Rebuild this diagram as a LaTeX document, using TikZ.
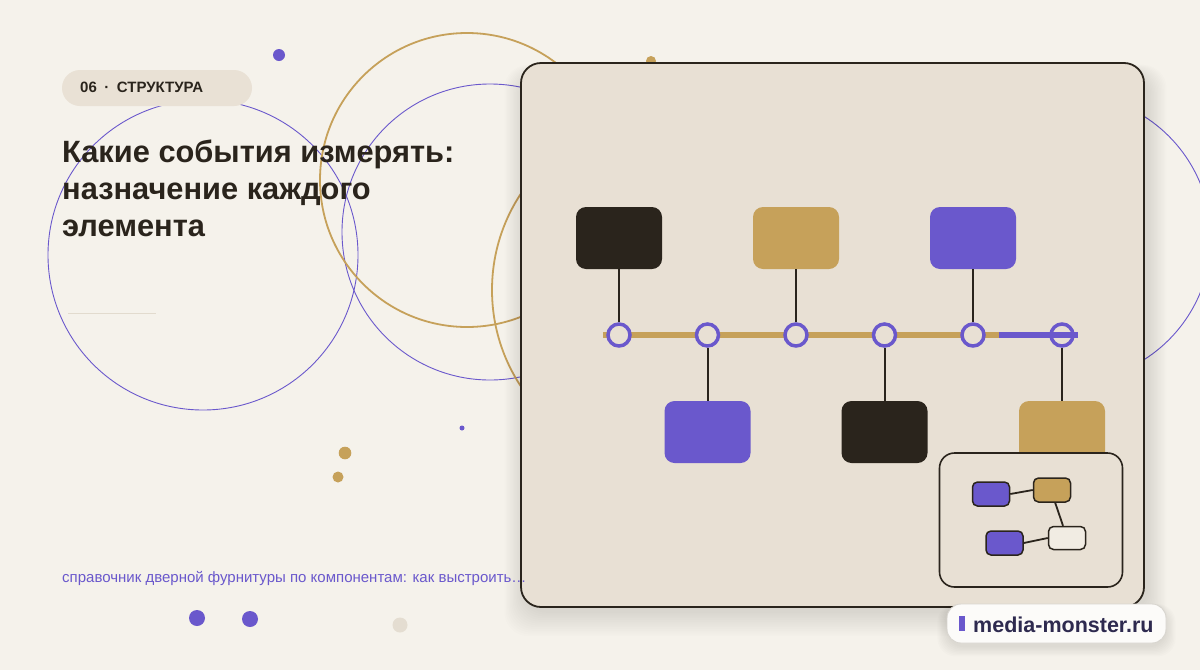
\documentclass[tikz,border=0pt]{standalone}
\usepackage{fontspec}
\setmainfont{Liberation Sans}
\usetikzlibrary{calc}
\definecolor{bg}{HTML}{F5F2EB}
\definecolor{ink}{HTML}{2A241C}
\definecolor{gold}{HTML}{C6A15A}
\definecolor{violet}{HTML}{6A58CC}
\definecolor{cardbg}{HTML}{E8E0D4}
\definecolor{pillbg}{HTML}{E9E1D5}
\definecolor{rulegray}{HTML}{E2DBCE}
\definecolor{beigedot}{HTML}{E4DDD1}
\definecolor{lightbox}{HTML}{F1ECE3}
\definecolor{logoink}{HTML}{2E2A4F}
\begin{document}
\begin{tikzpicture}[x=1pt,y=-1pt,
  bigbox/.style={rectangle, rounded corners=10pt, minimum width=86pt, minimum height=62pt, inner sep=0pt},
  dot/.style={circle, draw=violet, line width=3.5pt, fill=cardbg, minimum size=22pt, inner sep=0pt},
  stem/.style={draw=ink, line width=2pt},
  minibox/.style={rectangle, rounded corners=5pt, draw=ink, line width=1.5pt, minimum width=37pt, minimum height=24pt, inner sep=0pt},
  minilink/.style={draw=ink, line width=1.8pt},
  txt/.style={inner sep=0pt, anchor=base west}
]
\useasboundingbox (0,0) rectangle (1200,670);
\fill[bg] (0,0) rectangle (1200,670);

% decorative circles
\draw[violet, line width=0.9pt] (203,255) circle[radius=155];
\draw[violet, line width=0.9pt] (490,232) circle[radius=148];
\draw[gold, line width=1.8pt] (467,180) circle[radius=147];
\draw[gold, line width=1.8pt] (667,290) circle[radius=175];
\draw[violet, line width=0.9pt] (1067,238) circle[radius=144];

% dots
\fill[violet] (279,55) circle[radius=6];
\fill[gold] (651,61) circle[radius=5];
\fill[violet] (462,428) circle[radius=2.5];
\fill[gold] (345,453) circle[radius=6.3];
\fill[gold] (338,477) circle[radius=5.5];
\fill[violet] (197,618) circle[radius=8];
\fill[violet] (250,619) circle[radius=8];
\fill[beigedot] (400,625) circle[radius=7.5];

% tag pill
\fill[pillbg, rounded corners=18pt] (62,70) rectangle (252,106);
\node[txt, text=ink, font=\bfseries\fontsize{15}{17}\selectfont] (tag) at (80,92.3) {06\hspace{7.5pt}·\hspace{7.5pt}СТРУКТУРА};

% title
\node[txt, text=ink, font=\bfseries\fontsize{30.8}{37}\selectfont] (title1) at (62,162) {Какие события измерять:};
\node[txt, text=ink, font=\bfseries\fontsize{30.8}{37}\selectfont] (title2) at (62,199) {назначение каждого};
\node[txt, text=ink, font=\bfseries\fontsize{30.8}{37}\selectfont] (title3) at (62,236) {элемента};

% thin rule
\draw[rulegray, line width=0.8pt] (68,313) -- (156,313);

% card shadow
\foreach \i in {1,...,14} {
  \fill[black, opacity=0.009, rounded corners=24pt]
    (521-\i*1.4+3, 63-\i*0.6+10) rectangle (1144+\i*1.4+3, 607+\i*1.8+4);
}
% card
\node[rectangle, rounded corners=20pt, fill=cardbg, draw=ink, line width=1.8pt,
      minimum width=623pt, minimum height=544pt, inner sep=0pt] (card) at (832.5,335) {};

% timeline
\draw[gold, line width=6.5pt] (603,335) -- (999,335);
\node[dot] (c1) at (619,335) {};
\node[dot] (c2) at (707.5,335) {};
\node[dot] (c3) at (796,335) {};
\node[dot] (c4) at (884.5,335) {};
\node[dot] (c5) at (973,335) {};
\node[dot] (c6) at (1062,335) {};
\draw[violet, line width=6.5pt] (999,335) -- (1078,335);

% top boxes
\node[bigbox, fill=ink] (t1) at (619,238) {};
\node[bigbox, fill=gold] (t2) at (796,238) {};
\node[bigbox, fill=violet] (t3) at (973,238) {};
% bottom boxes
\node[bigbox, fill=violet] (b1) at (707.5,432) {};
\node[bigbox, fill=ink] (b2) at (884.5,432) {};
\node[bigbox, fill=gold] (b3) at (1062,432) {};

\draw[stem] (t1.south) -- (c1.north);
\draw[stem] (t2.south) -- (c3.north);
\draw[stem] (t3.south) -- (c5.north);
\draw[stem] (c2.south) -- (b1.north);
\draw[stem] (c4.south) -- (b2.north);
\draw[stem] (c6.south) -- (b3.north);

% inset
\node[rectangle, rounded corners=15pt, fill=cardbg, draw=ink, line width=1.6pt,
      minimum width=183pt, minimum height=134pt, inner sep=0pt] (inset) at (1031,520) {};
\node[minibox, fill=violet] (i1) at (991,494) {};
\node[minibox, fill=gold] (i2) at (1052,490) {};
\node[minibox, fill=violet] (i3) at (1004.5,543) {};
\node[minibox, fill=lightbox, minimum height=23pt] (i4) at (1067,538) {};
\draw[minilink] (i1.east) -- (i2.west);
\draw[minilink] (i2.-76) -- (i4.108);
\draw[minilink] (i3.east) -- (i4.west);

% bottom text
\node[txt, text=violet, font=\fontsize{15}{17}\selectfont] (note) at (62,582) {справочник дверной фурнитуры по компонентам: как выстроить…};

% logo pill
\foreach \i in {1,...,8} {
  \fill[black, opacity=0.010, rounded corners=18pt]
    (947-\i*1.2, 604-\i*0.5+4) rectangle (1166+\i*1.2, 643+\i*1.3+3);
}
\node[rectangle, rounded corners=14pt, fill=white!70!bg, draw=black!12!bg, line width=0.9pt,
      minimum width=219pt, minimum height=39pt, inner sep=0pt] (logo) at (1056.5,623.5) {};
\fill[violet] (959,616) rectangle (965,631);
\node[txt, text=logoink, font=\bfseries\fontsize{21.5}{24}\selectfont] (logotext) at (973,632) {media-monster.ru};
\end{tikzpicture}
\end{document}
